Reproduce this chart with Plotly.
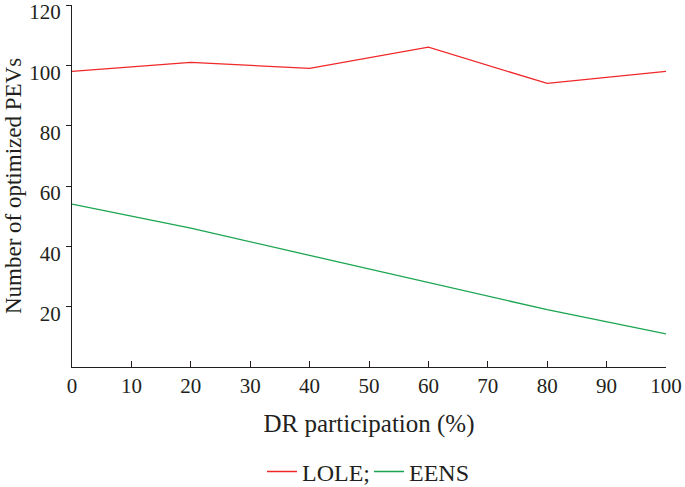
import plotly.graph_objects as go

dr = [0, 20, 40, 60, 80, 100]
lole = [98, 101, 99, 106, 94, 98]
eens = [54, 46, 37, 28, 19, 11]

font = "Liberation Serif"

fig = go.Figure()
fig.add_trace(go.Scatter(x=dr, y=lole, mode="lines", name="LOLE;",
                         line=dict(color="#f0282a", width=1.3)))
fig.add_trace(go.Scatter(x=dr, y=eens, mode="lines", name="EENS",
                         line=dict(color="#1aa550", width=1.3)))

fig.update_layout(
    width=685, height=487,
    margin=dict(l=72, r=19, t=5, b=120),
    paper_bgcolor="white", plot_bgcolor="white",
    font=dict(family=font, size=21, color="#231f20"),
    showlegend=True,
    legend=dict(orientation="h", x=0.5, xanchor="center",
                yref="container", y=0.031, yanchor="middle",
                font=dict(size=24), entrywidth=62, entrywidthmode="pixels",
                tracegroupgap=0),
    xaxis=dict(range=[0, 100], tickvals=list(range(0, 101, 10)),
               showgrid=False, zeroline=False, showline=True, linecolor="#231f20",
               linewidth=1.2, ticks="inside", ticklen=6, tickcolor="#231f20",
               ticklabeloverflow="allow", automargin=False,
               title=dict(text="DR participation (%)", font=dict(size=25), standoff=17)),
    yaxis=dict(range=[0, 120], tickvals=[20, 40, 60, 80, 100, 120],
               showgrid=False, zeroline=False, showline=True, linecolor="#231f20",
               linewidth=1.2, ticks="outside", ticklen=5, tickcolor="#231f20",
               ticklabeloverflow="allow", ticklabelshift=7, ticklabelstandoff=1,
               automargin=False,
               title=dict(text="Number of optimized PEVs", font=dict(size=23), standoff=1)),
)

fig.write_html("out.html", config={"displayModeBar": False},
               post_script="document.body.style.margin='0';document.body.style.padding='0';")
